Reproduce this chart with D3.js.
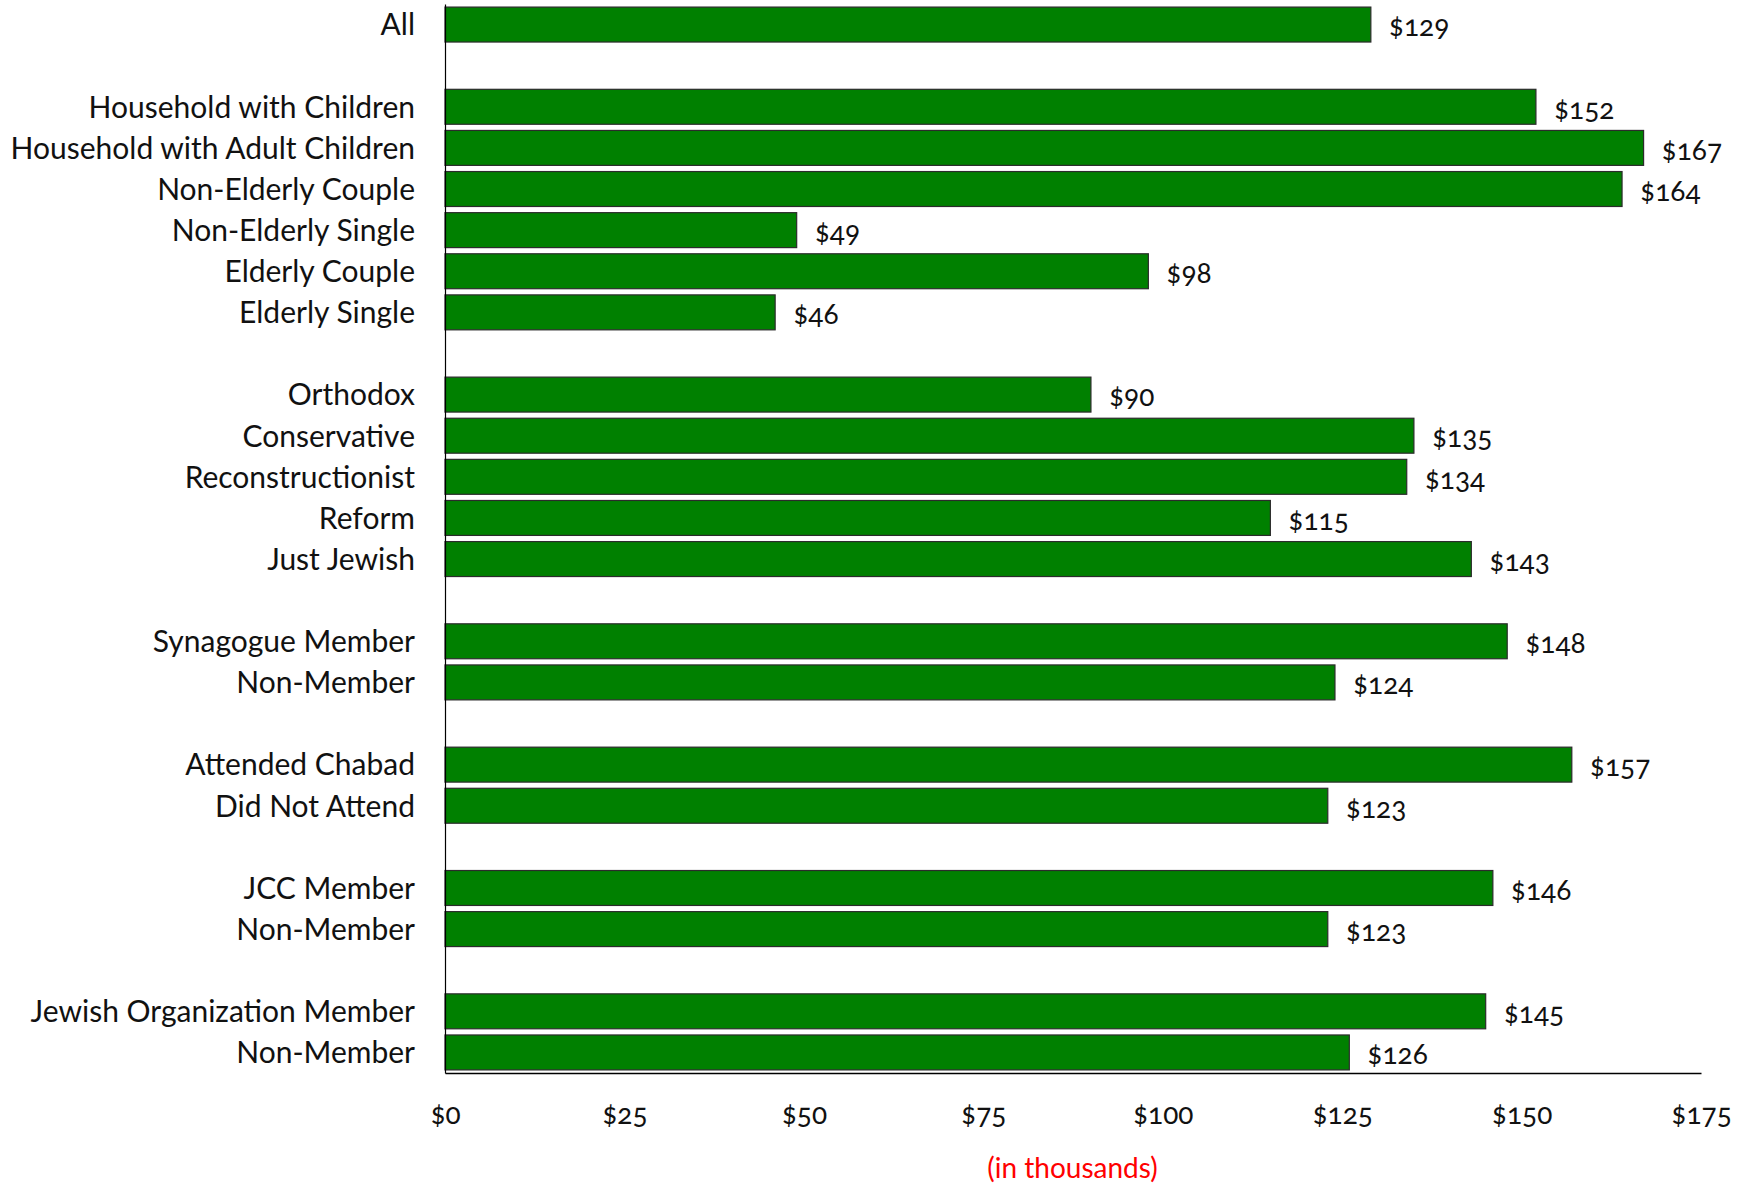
<!DOCTYPE html>
<html>
<head>
<meta charset="utf-8">
<script src="https://cdn.jsdelivr.net/npm/d3@7"></script>
<style>
  html, body { margin: 0; padding: 0; background: #fff; }
  svg { display: block; }
</style>
</head>
<body>
<svg id="chart" width="1752" height="1183"></svg>
<script>
// Row labels ("" = spacer row between groups)
const categories = [
  "All", "",
  "Household with Children", "Household with Adult Children", "Non-Elderly Couple",
  "Non-Elderly Single", "Elderly Couple", "Elderly Single", "",
  "Orthodox", "Conservative", "Reconstructionist", "Reform", "Just Jewish", "",
  "Synagogue Member", "Non-Member", "",
  "Attended Chabad", "Did Not Attend", "",
  "JCC Member", "Non-Member", "",
  "Jewish Organization Member", "Non-Member"
];
// Median income in thousands of dollars (null = spacer row)
const values = [
  129, null,
  152, 167, 164, 49, 98, 46, null,
  90, 135, 134, 115, 143, null,
  148, 124, null,
  157, 123, null,
  146, 123, null,
  145, 126
];
const tickValues = [0, 25, 50, 75, 100, 125, 150, 175];
const axisNote = "(in thousands)";

const svg = d3.select("#chart");
const mLeft = 445, mRight = 1701, mTop = 4, mBottom = 1073;

const keys = categories.map((c, i) => String(i));
const rows = categories.map((c, i) => ({ key: String(i), label: c, value: values[i] }));

const x = d3.scaleLinear().domain([0, 175]).range([mLeft, mRight]);
const y = d3.scaleBand().domain(keys).range([mTop, mBottom]).paddingInner(0.15).paddingOuter(0.075);

// bars
svg.append("g").selectAll("rect")
  .data(rows.filter(d => d.value != null))
  .join("rect")
  .attr("x", x(0))
  .attr("y", d => y(d.key))
  .attr("width", d => x(d.value) - x(0))
  .attr("height", y.bandwidth())
  .attr("fill", "#008000")
  .attr("stroke", "#2b2b2b")
  .attr("stroke-width", 1.2);

// value labels
svg.append("g").selectAll("text")
  .data(rows.filter(d => d.value != null))
  .join("text")
  .attr("x", d => x(d.value) + 18)
  .attr("y", d => y(d.key) + y.bandwidth() / 2)
  .attr("dy", "0.42em")
  .attr("font-family", "Lato, 'Open Sans', sans-serif")
  .attr("font-size", 28)
  .style("font-variant-numeric", "oldstyle-nums")
  .attr("fill", "#111")
  .text(d => "$" + d.value);

// left axis (category labels)
const yAxis = d3.axisLeft(y)
  .tickSize(0)
  .tickPadding(30)
  .tickFormat(k => categories[+k]);
const gy = svg.append("g").attr("transform", `translate(${mLeft},0)`).call(yAxis);
gy.select(".domain").attr("stroke", "#000").attr("stroke-width", 1.2);
gy.selectAll(".tick text")
  .attr("font-family", "Lato, 'Open Sans', sans-serif")
  .attr("font-size", 30)
  .attr("fill", "#111")
  .attr("dy", "0.36em");

// bottom axis
const xAxis = d3.axisBottom(x)
  .tickValues(tickValues)
  .tickSize(0)
  .tickPadding(31)
  .tickFormat(d => "$" + d);
const gx = svg.append("g").attr("transform", `translate(0,${mBottom})`).call(xAxis);
gx.select(".domain").attr("stroke", "#000").attr("stroke-width", 1.5);
gx.selectAll(".tick text")
  .attr("font-family", "Lato, 'Open Sans', sans-serif")
  .attr("font-size", 28)
  .style("font-variant-numeric", "oldstyle-nums")
  .attr("fill", "#111");

// axis note
svg.append("text")
  .attr("x", (mLeft + mRight) / 2 - 0.5)
  .attr("y", 1168)
  .attr("dy", "0.35em")
  .attr("text-anchor", "middle")
  .attr("font-family", "Lato, 'Open Sans', sans-serif")
  .attr("font-size", 28)
  .attr("fill", "#ff0000")
  .text(axisNote);
</script>
</body>
</html>
